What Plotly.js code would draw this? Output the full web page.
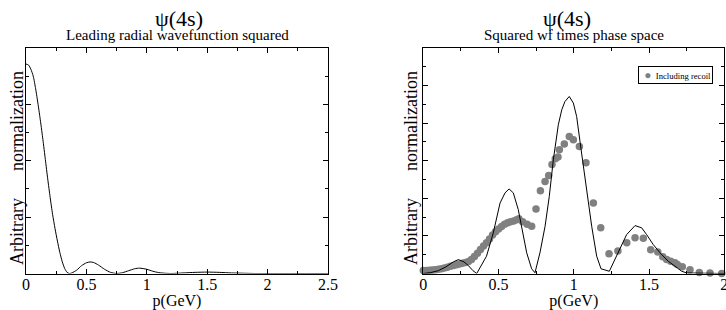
<!DOCTYPE html>
<html>
<head>
<meta charset="utf-8">
<script src="https://cdn.plot.ly/plotly-3.0.1.min.js"></script>
<style>html,body{margin:0;padding:0;background:#fff;}#chart{width:726px;height:310px;}</style>
</head>
<body>
<div id="chart"></div>
<script>
// Left panel: leading radial wavefunction squared
const leftP = [0,0.02,0.04,0.06,0.08,0.10,0.12,0.14,0.16,0.18,0.20,0.22,0.24,0.26,0.28,0.30,0.32,0.34,0.36,0.38,0.42,0.46,0.50,0.53,0.56,0.60,0.65,0.70,0.75,0.80,0.85,0.90,0.94,1.00,1.05,1.10,1.15,1.20,1.30,1.40,1.50,1.60,1.70,1.80,1.90,2.20,2.50];
const leftV = [7.43,7.4,7.25,7.0,6.55,6.0,5.4,4.75,4.05,3.35,2.7,2.1,1.6,1.15,0.75,0.42,0.18,0.04,0.0,0.02,0.12,0.28,0.38,0.41,0.39,0.3,0.15,0.04,0.0,0.03,0.1,0.17,0.19,0.15,0.08,0.03,0.01,0.0,0.02,0.04,0.05,0.04,0.02,0.01,0,0,0];

// Right panel: squared wf times phase space (line)
const rightP = [0,0.05,0.1,0.15,0.2,0.233,0.27,0.3,0.33,0.355,0.42,0.465,0.51,0.543,0.57,0.598,0.631,0.664,0.687,0.72,0.742,0.775,0.809,0.837,0.864,0.897,0.92,0.941,0.97,0.997,1.019,1.041,1.057,1.085,1.119,1.152,1.181,1.236,1.252,1.307,1.351,1.407,1.451,1.484,1.528,1.573,1.628,1.672,1.717,1.75,2.0];
const rightV = [0,0.05,0.15,0.35,0.62,0.74,0.62,0.42,0.15,0.0,0.92,2.16,3.75,4.29,4.5,4.29,3.4,1.98,1.1,0.25,0.04,1.1,2.51,4.1,6.05,7.91,8.71,9.15,9.42,9.07,8.35,7.03,6.05,4.29,2.51,0.92,0.25,0.12,0.39,1.3,2.07,2.55,2.43,2.07,1.54,1.1,0.65,0.39,0.12,0.03,0.0];

// Right panel: including recoil (points)
const recoilP = [0,0.02,0.04,0.06,0.08,0.10,0.12,0.14,0.16,0.18,0.20,0.22,0.24,0.26,0.28,0.30,0.32,0.34,0.36,0.38,0.40,0.42,0.44,0.46,0.48,0.50,0.52,0.54,0.56,0.58,0.60,0.62,0.635,0.66,0.69,0.72,0.749,0.778,0.809,0.833,0.855,0.877,0.895,0.904,0.937,0.97,0.997,1.037,1.081,1.13,1.179,1.234,1.293,1.352,1.407,1.462,1.511,1.558,1.591,1.617,1.644,1.672,1.688,1.721,1.772,1.834,1.905,1.983];
const recoilV = [0.16,0.16,0.17,0.18,0.2,0.22,0.25,0.29,0.33,0.38,0.42,0.46,0.5,0.54,0.58,0.64,0.75,0.9,1.08,1.28,1.46,1.64,1.84,2.05,2.22,2.37,2.5,2.62,2.7,2.76,2.8,2.86,2.92,2.75,2.62,2.52,3.43,4.41,4.9,5.22,5.8,6.1,6.2,6.59,6.89,7.29,7.12,6.76,5.9,3.75,2.43,1.05,1.2,1.63,1.9,1.87,1.26,1.15,0.89,0.74,0.65,0.57,0.48,0.36,0.2,0.05,0.02,0.0];

const leftTicks = [0,0.5,1,1.5,2,2.5];
const rightTicks = [0,0.5,1,1.5,2];

const FONT = '"Liberation Serif", "Times New Roman", serif';
const DOT = 'rgb(128,128,128)';

const traces = [
  {x: leftP, y: leftV, xaxis:'x', yaxis:'y', mode:'lines', line:{color:'#000', width:1, shape:'spline', smoothing:0.6}, showlegend:false, hoverinfo:'skip'},
  {x: recoilP, y: recoilV, xaxis:'x2', yaxis:'y2', mode:'markers', name:'Including recoil', marker:{color:DOT, size:7.5}, cliponaxis:false, showlegend:false},
  {x: rightP, y: rightV, xaxis:'x2', yaxis:'y2', mode:'lines', line:{color:'#000', width:1}, showlegend:false, hoverinfo:'skip'}
];

const yDom = [36.5/310, 262/310];
function xax(dom, range, ticks, anchor) {
  return {
    domain: dom, range: range, anchor: anchor,
    tickvals: ticks, ticktext: ticks.map(String),
    ticks:'inside', ticklen:5, tickwidth:1, tickcolor:'#000',
    minor:{dtick:0.25, ticks:'inside', ticklen:3, tickwidth:1, tickcolor:'#000'},
    showline:true, linecolor:'#000', linewidth:1, mirror:'allticks',
    showgrid:false, zeroline:false,
    ticklabeloverflow:'allow', ticklabelstandoff:-4,
    tickfont:{family:FONT, size:16, color:'#000'},
    title:{text:'p(GeV)', font:{family:FONT, size:16, color:'#000'}, standoff:1}
  };
}
function yax(range, anchor) {
  return {
    domain: yDom, range: range, anchor: anchor,
    dtick:2, ticks:'inside', ticklen:5, tickwidth:1, tickcolor:'#000',
    minor:{dtick:1, ticks:'inside', ticklen:3, tickwidth:1, tickcolor:'#000'},
    showticklabels:false,
    showline:true, linecolor:'#000', linewidth:1, mirror:'allticks',
    showgrid:false, zeroline:false
  };
}

const YT = 'Arbitrary\u00a0\u00a0\u00a0\u00a0\u00a0\u00a0normalization';

const layout = {
  width:726, height:310,
  margin:{l:0, r:0, t:0, b:0},
  paper_bgcolor:'#fff', plot_bgcolor:'#fff',
  font:{family:FONT, color:'#000'},
  xaxis: xax([26/726, 328/726], [0,2.5], leftTicks, 'y'),
  yaxis: yax([0,8], 'x'),
  xaxis2: xax([423.3/726, 724.3/726], [0,2], rightTicks, 'y2'),
  yaxis2: yax([0,12], 'x2'),
  showlegend:false,
  annotations:[
    {text:'ψ(4s)', xref:'paper', yref:'paper', x:179/726, y:(310-18)/310, showarrow:false, font:{family:FONT, size:22}, xanchor:'center', yanchor:'middle'},
    {text:'Leading radial wavefunction squared', xref:'paper', yref:'paper', x:177/726, y:(310-34.5)/310, showarrow:false, font:{family:FONT, size:15}, xanchor:'center', yanchor:'middle'},
    {text:'ψ(4s)', xref:'paper', yref:'paper', x:567/726, y:(310-18)/310, showarrow:false, font:{family:FONT, size:22}, xanchor:'center', yanchor:'middle'},
    {text:'Squared wf times phase space', xref:'paper', yref:'paper', x:574/726, y:(310-34.5)/310, showarrow:false, font:{family:FONT, size:15}, xanchor:'center', yanchor:'middle'},
    {text:YT, xref:'paper', yref:'paper', x:17/726, y:(310-168)/310, textangle:-90, showarrow:false, font:{family:FONT, size:18}, xanchor:'center', yanchor:'middle'},
    {text:YT, xref:'paper', yref:'paper', x:411/726, y:(310-168)/310, textangle:-90, showarrow:false, font:{family:FONT, size:18}, xanchor:'center', yanchor:'middle'},
    {text:'\u00a0\u00a0<span style="color:'+DOT+';font-size:12px">●</span>\u00a0\u00a0Including recoil', xref:'paper', yref:'paper', x:713/726, y:(310-65.5)/310, xanchor:'right', yanchor:'top', showarrow:false,
     font:{family:FONT, size:8.6, color:'#000'}, bordercolor:'#000', borderwidth:1, borderpad:1, bgcolor:'#fff'}
  ]
};

Plotly.newPlot('chart', traces, layout, {staticPlot:true, displayModeBar:false});
</script>
</body>
</html>
